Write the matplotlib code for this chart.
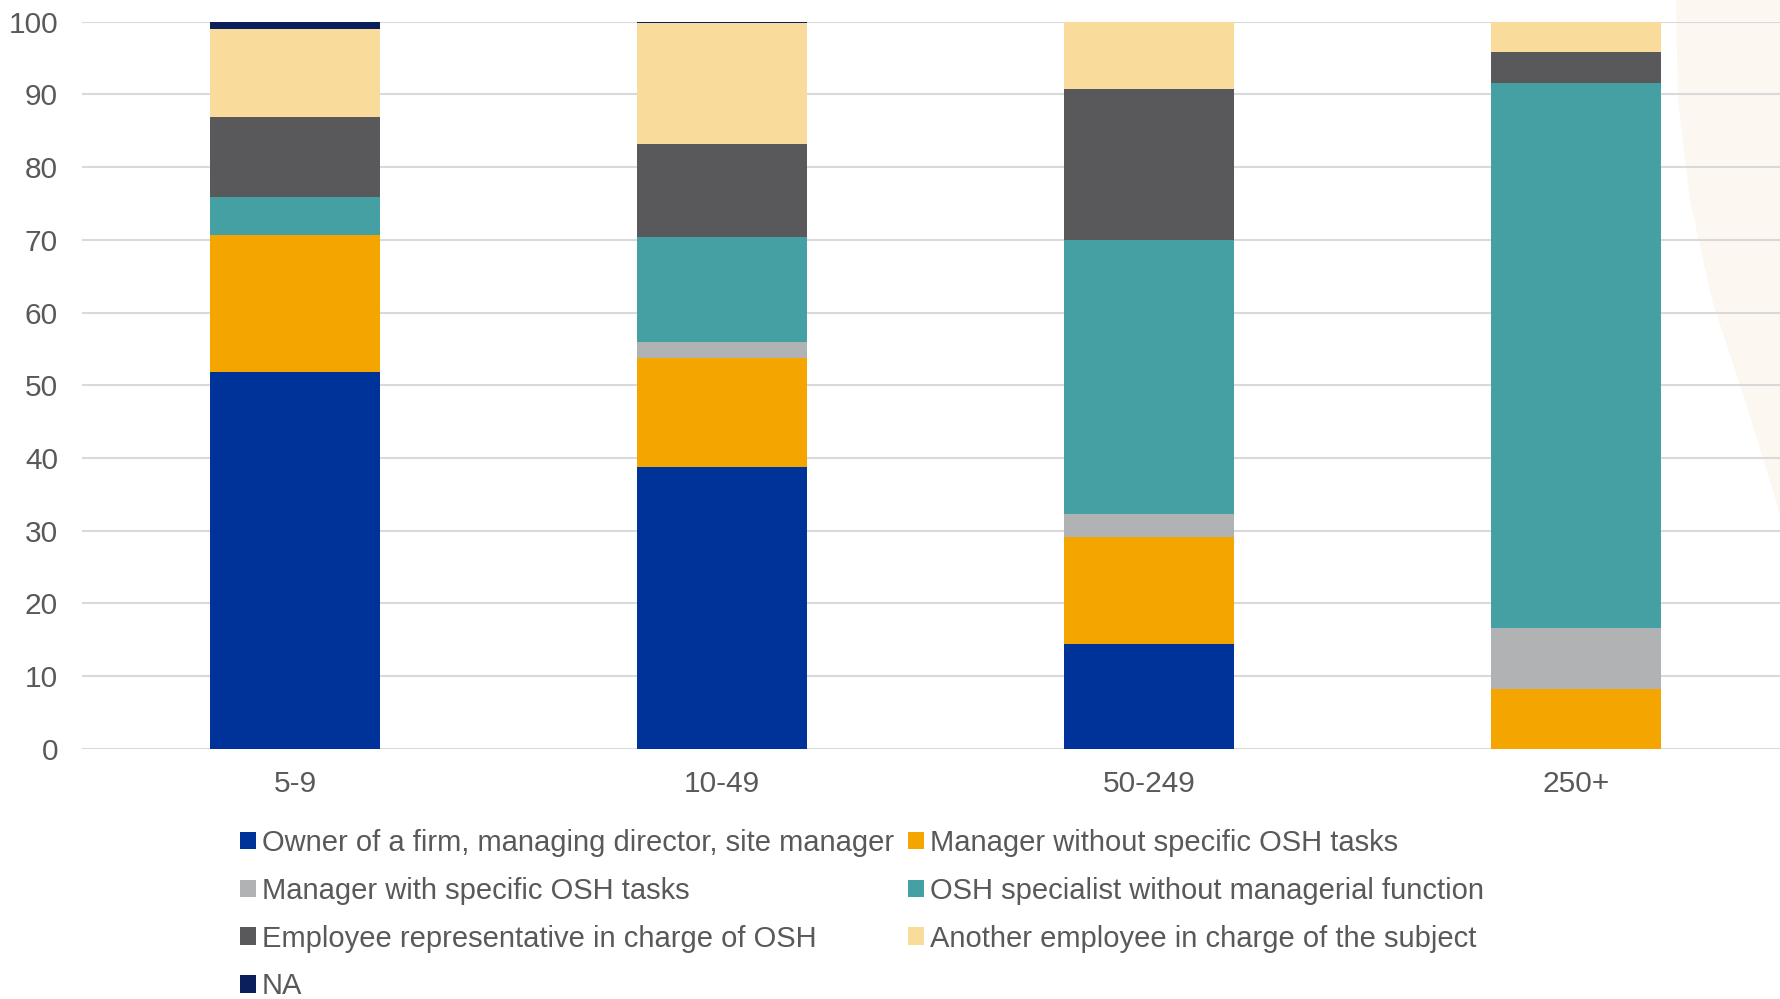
import matplotlib.pyplot as plt
import numpy as np
from matplotlib.patches import Polygon

plt.rcParams['font.family'] = ['Liberation Sans', 'DejaVu Sans']

sizes = ['5-9', '10-49', '50-249', '250+']
series = [
    'Owner of a firm, managing director, site manager',
    'Manager without specific OSH tasks',
    'Manager with specific OSH tasks',
    'OSH specialist without managerial function',
    'Employee representative in charge of OSH',
    'Another employee in charge of the subject',
    'NA',
]
owner = [51.8, 38.8, 14.4, 0.0]
mgr_without = [18.9, 14.9, 14.8, 8.2]
mgr_with = [0.0, 2.2, 3.1, 8.4]
osh_specialist = [5.2, 14.5, 37.7, 75.0]
employee_rep = [11.0, 12.8, 20.8, 4.2]
another = [12.1, 16.6, 9.2, 4.2]
na = [1.0, 0.2, 0.0, 0.0]
values = [owner, mgr_without, mgr_with, osh_specialist, employee_rep, another, na]
colors = ['#003399', '#F5A500', '#B1B2B4', '#44A0A3', '#59595B', '#F9DB9B', '#0B1F5C']

W, H = 1781, 999
fig = plt.figure(figsize=(W / 100, H / 100), dpi=100)

# faint beige decoration at the right edge (page background)
edge = [(1676, 0), (1678, 100), (1690, 200), (1712, 300), (1745, 400), (1781, 517), (1781, 0)]
fig.patches.append(Polygon([(px / W, 1 - py / H) for px, py in edge], closed=True,
                           transform=fig.transFigure, facecolor='#FCF8F1',
                           edgecolor='none', zorder=-5))

ax = fig.add_axes([0.0458, 0.2503, 0.959, 0.728])
ax.patch.set_alpha(0)
ax.set_zorder(1)

x = np.arange(len(sizes))
bottom = np.zeros(len(sizes))
handles = []
for name, vals, c in zip(series, values, colors):
    b = ax.bar(x, vals, 0.40, bottom=bottom, color=c, label=name, zorder=3)
    handles.append(b)
    bottom += np.array(vals)

ax.set_xlim(-0.5, 3.5)
ax.set_ylim(0, 100)
ax.set_yticks(range(0, 101, 10))
ax.set_xticks(x)
ax.set_xticklabels(sizes)
ax.grid(axis='y', color='#D9D9D9', linewidth=1.5, zorder=0)
for s in ax.spines.values():
    s.set_visible(False)
ax.tick_params(length=0, labelsize=21.5, labelcolor='#595959')
ax.tick_params(axis='x', pad=15)
ax.tick_params(axis='y', pad=17)

# legend is filled row by row in the original
order = [0, 2, 4, 6, 1, 3, 5]
fig.legend([handles[i] for i in order], [series[i] for i in order],
           ncol=2, loc='upper left', bbox_to_anchor=(0.128, 0.182),
           frameon=False, fontsize=21, labelcolor='#595959',
           handlelength=0.55, handleheight=0.55, handletextpad=0.2,
           labelspacing=0.68, columnspacing=0.5, borderaxespad=0)

fig.savefig('out.png', dpi=100)
